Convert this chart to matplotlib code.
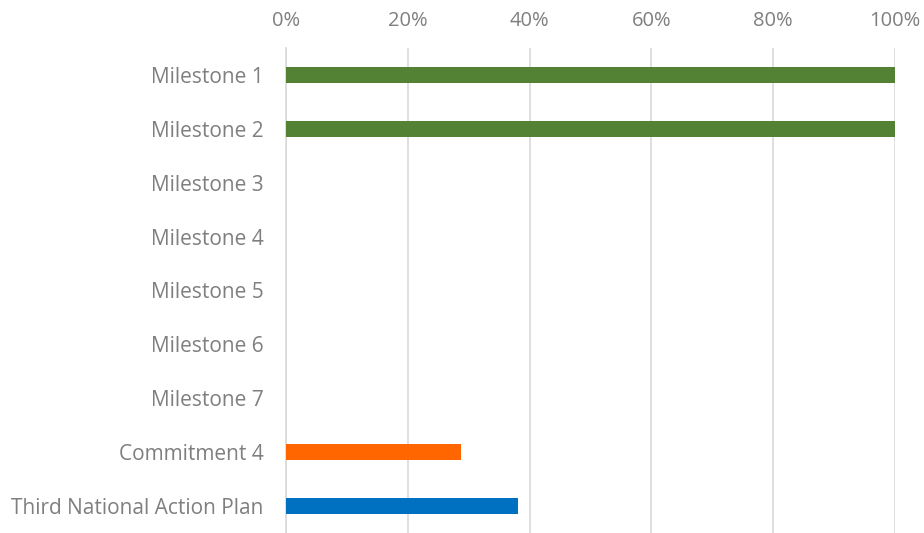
import matplotlib.pyplot as plt
import matplotlib.ticker as mticker

plt.rcParams['font.family'] = ['Open Sans', 'DejaVu Sans']

categories = ['Milestone 1', 'Milestone 2', 'Milestone 3', 'Milestone 4',
              'Milestone 5', 'Milestone 6', 'Milestone 7', 'Commitment 4',
              'Third National Action Plan']
values = [1.0, 1.0, 0, 0, 0, 0, 0, 0.287, 0.381]
colors = ['#548235', '#548235', '#548235', '#548235', '#548235', '#548235',
          '#548235', '#FF6600', '#0070C0']
xticks = [0, 0.2, 0.4, 0.6, 0.8, 1.0]

textColor = '#7f7f7f'

fig = plt.figure(figsize=(9.24, 5.33), dpi=100)
ax = fig.add_axes([286/924, 0, 609/924, 485/533])

ypos = list(range(len(categories)))
ax.barh(ypos, values, height=0.3, color=colors, zorder=3)

ax.set_ylim(len(categories) - 0.5, -0.5)
ax.set_xlim(0, 1)
ax.set_yticks(ypos)
ax.set_yticklabels(categories)
ax.set_xticks(xticks)
ax.xaxis.set_major_formatter(mticker.PercentFormatter(1.0, decimals=0))

ax.xaxis.tick_top()
ax.tick_params(axis='x', length=0, pad=12, labelsize=14.5, labelcolor=textColor)
ax.tick_params(axis='y', length=0, pad=16, labelsize=15, labelcolor=textColor)

ax.grid(axis='x', color='#d9d9d9', linewidth=1.2, zorder=0)
for s in ['top', 'right', 'bottom']:
    ax.spines[s].set_visible(False)
ax.spines['left'].set_color('#d9d9d9')
ax.spines['left'].set_linewidth(1.2)

fig.savefig('out.png', dpi=100)
